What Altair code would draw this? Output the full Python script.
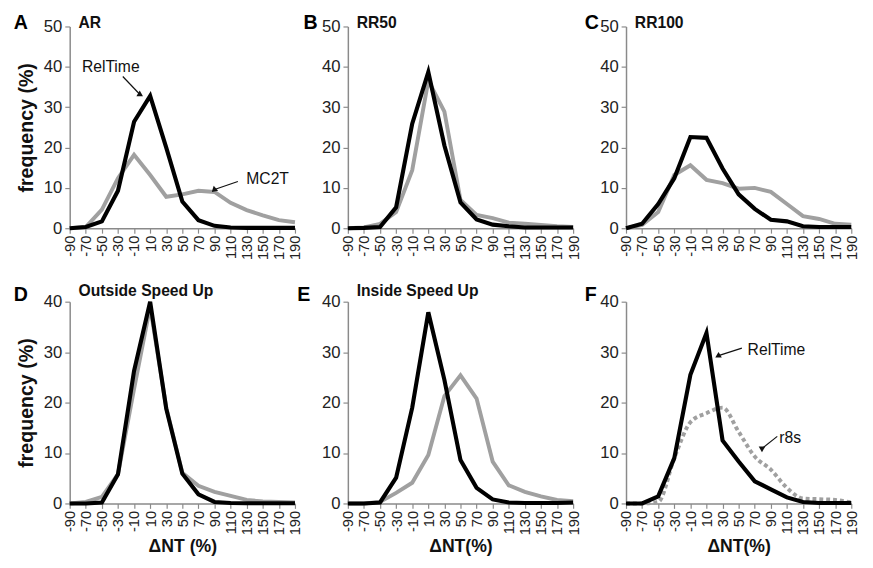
import altair as alt
import pandas as pd

x_vals = [-90, -70, -50, -30, -10, 10, 30, 50, 70, 90, 110, 130, 150, 170, 190]

a_reltime = [0, 0.3, 1.7, 9.3, 26.4, 32.8, 20, 6.6, 2, 0.6, 0.2, 0.1, 0.1, 0.1, 0.1]
a_mc2t = [0, 0.3, 4.6, 12.4, 18.2, 13.2, 7.8, 8.4, 9.3, 9, 6.3, 4.5, 3.2, 2, 1.5]
b_reltime = [0, 0.1, 0.3, 5.2, 25.9, 38.7, 20.5, 6.4, 2.2, 0.9, 0.5, 0.2, 0.2, 0.2, 0.2]
b_mc2t = [0, 0.2, 1.1, 4, 14.4, 36.6, 28.9, 7, 3.3, 2.5, 1.4, 1.1, 0.8, 0.5, 0.3]
c_reltime = [0, 1.1, 6, 12.4, 22.6, 22.4, 14.8, 8.4, 4.8, 2.1, 1.7, 0.5, 0.3, 0.3, 0.3]
c_mc2t = [0, 0.8, 4, 13.2, 15.6, 12, 11.2, 9.8, 10, 9, 6, 3, 2.3, 1.1, 0.9]
d_reltime = [0, 0, 0.2, 5.8, 26.3, 40, 18.8, 5.9, 1.8, 0.3, 0.1, 0.05, 0.05, 0.05, 0.05]
d_mc2t = [0, 0.3, 1.3, 5.8, 22.7, 39, 19, 6.1, 3.5, 2.3, 1.5, 0.7, 0.4, 0.3, 0.2]
e_reltime = [0, 0, 0.2, 5.1, 19, 37.9, 24.5, 8.6, 3.1, 0.8, 0.2, 0.1, 0.1, 0.1, 0.2]
e_mc2t = [0, 0, 0.3, 2.1, 4.1, 9.6, 21.3, 25.4, 20.8, 8.3, 3.6, 2.3, 1.4, 0.7, 0.45]
f_reltime = [0, 0, 1.4, 9, 25.5, 33.8, 12.5, 8.3, 4.4, 2.8, 1.2, 0.3, 0.1, 0.1, 0.1]
f_r8s = [0, 0, 0.3, 9, 16.1, 17.9, 19, 14.2, 9.3, 6.7, 3.1, 1, 0.85, 0.7, 0.2]

panel_letters = ["A", "B", "C", "D", "E", "F"]
panel_titles = ["AR", "RR50", "RR100", "Outside Speed Up", "Inside Speed Up", ""]
y_label = "frequency (%)"
x_titles = ["ΔNT (%)", "ΔNT(%)", "ΔNT(%)"]

# annotations: text label, text x/y (data), arrow start x/y, arrow end x/y, arrowhead angle
ann_a = [("RelTime", -39, 40, -24, 37.6, -3, 33.2, 138),
         ("MC2T", 156, 12.1, 119, 11.6, 90, 9.6, 248)]
ann_f = [("RelTime", 97, 30.4, 54, 30.8, 25, 29.3, 252),
         ("r8s", 114, 12.9, 98, 13.3, 79, 10.9, 233)]

BLACK = "#000000"
GRAY = "#a0a0a0"
FONT = "Liberation Sans"
W, H = 230, 206


def panel(i, black, gray, ymax, letter_dx, letter_dy, title_dy, ytitle, xtitle,
          dotted=False, ann=None):
    df = pd.DataFrame({"x": x_vals, "b": black, "g": gray})
    xkw = dict(values=x_vals, labelAngle=-90, labelExpr="datum.value + ''",
               labelOverlap=False)
    xkw["title"] = xtitle if xtitle else None
    ykw = dict(values=list(range(0, ymax + 1, 10)))
    ykw["title"] = ytitle if ytitle else None

    def X(f):
        return alt.X(f, scale=alt.Scale(domain=[-90, 190], nice=False, zero=False),
                     axis=alt.Axis(**xkw))

    def Y(f):
        return alt.Y(f, scale=alt.Scale(domain=[0, ymax], nice=False),
                     axis=alt.Axis(**ykw))

    base = alt.Chart(df)
    gkw = dict(color=GRAY, strokeWidth=4)
    if dotted:
        gkw.update(strokeDash=[4, 3], interpolate="monotone", strokeCap="butt")
    gline = base.mark_line(**gkw).encode(x=X("x:Q"), y=Y("g:Q"))
    bline = base.mark_line(color=BLACK, strokeWidth=4.2, strokeJoin="miter").encode(
        x=X("x:Q"), y=Y("b:Q"))
    letter = alt.Chart(pd.DataFrame({"t": [panel_letters[i]]})).mark_text(
        font=FONT, fontSize=20, fontWeight="bold", align="center", baseline="alphabetic",
        color="#000").encode(x=alt.value(letter_dx), y=alt.value(letter_dy), text="t:N")
    layers = [gline, bline, letter]
    if panel_titles[i]:
        title = alt.Chart(pd.DataFrame({"t": [panel_titles[i]]})).mark_text(
            font=FONT, fontSize=16, fontWeight="bold", align="left", baseline="alphabetic",
            color="#111").encode(x=alt.value(9), y=alt.value(title_dy), text="t:N")
        layers.append(title)
    if ann:
        adf = pd.DataFrame(ann, columns=["label", "tx", "ty", "sx", "sy", "ex", "ey", "ang"])
        a = alt.Chart(adf)
        layers.append(a.mark_text(font=FONT, fontSize=16, color="#111", align="center",
                                  baseline="middle").encode(x=X("tx:Q"), y=Y("ty:Q"),
                                                            text="label:N"))
        layers.append(a.mark_rule(color="#111", strokeWidth=1.2).encode(
            x=X("sx:Q"), y=Y("sy:Q"), x2="ex:Q", y2="ey:Q"))
        layers.append(a.mark_point(shape="triangle", filled=True, color="#111", size=45,
                                   opacity=1).encode(x=X("ex:Q"), y=Y("ey:Q"),
                                                     angle="ang:Q"))
    return alt.layer(*layers).properties(width=W, height=H)


pA = panel(0, a_reltime, a_mc2t, 50, -50, 3, 2, y_label, None, ann=ann_a)
pB = panel(1, b_reltime, b_mc2t, 50, -38, 3, 2, None, None)
pC = panel(2, c_reltime, c_mc2t, 50, -35, 3, 2, None, None)
pD = panel(3, d_reltime, d_mc2t, 40, -50, -1, -6, y_label, x_titles[0])
pE = panel(4, e_reltime, e_mc2t, 40, -45, -1, -6, None, x_titles[1])
pF = panel(5, f_reltime, f_r8s, 40, -36, -1, -6, None, x_titles[2], dotted=True, ann=ann_f)

chart = alt.concat(pA, pB, pC, pD, pE, pF, columns=3, bounds="flush",
                   spacing={"row": 75, "column": 54}).properties(
    padding={"left": 5, "top": 0, "right": 5, "bottom": 5}
).configure_view(
    strokeWidth=0
).configure_axis(
    grid=False, domainColor="#8a8a8a", domainWidth=1.5, tickColor="#8a8a8a",
    tickSize=5, tickWidth=1.2, labelFont=FONT, labelColor="#222", titleFont=FONT,
    titleFontWeight="bold", titleColor="#111"
).configure_axisX(
    labelFontSize=15, labelPadding=2, titleFontSize=18, titlePadding=3,
    labelOverlap=False
).configure_axisY(
    labelFontSize=17, labelPadding=3, titleFontSize=20, titlePadding=7
)

chart.save("out.html", embed_options={"renderer": "svg", "actions": False})
